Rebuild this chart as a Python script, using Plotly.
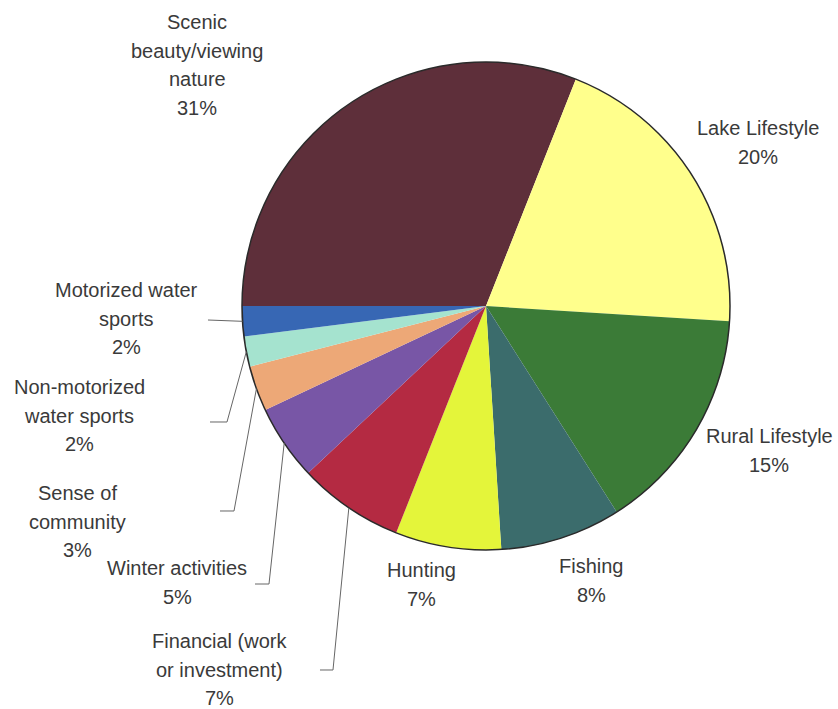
import math
import plotly.graph_objects as go

# ---- data ----
categories = ["Scenic beauty/viewing nature", "Lake Lifestyle", "Rural Lifestyle", "Fishing",
              "Hunting", "Financial (work or investment)", "Winter activities",
              "Sense of community", "Non-motorized water sports", "Motorized water sports"]
values = [31, 20, 15, 8, 7, 7, 5, 3, 2, 2]
colors = ["#5E2F3A", "#FFFF8C", "#3B7B37", "#3B6C6C", "#E4F53A",
          "#B42A42", "#7856A6", "#EDA877", "#A5E3CF", "#3767B4"]

# ---- layout (pixels) ----
W, H = 838, 709
CX, CY, R = 486, 306, 244
START = 270  # first slice starts at 9 o'clock, clockwise

label_lines = [["Scenic", "beauty/viewing", "nature"], ["Lake Lifestyle"], ["Rural Lifestyle"],
               ["Fishing"], ["Hunting"], ["Financial (work", "or investment)"],
               ["Winter activities"], ["Sense of", "community"],
               ["Non-motorized", "water sports"], ["Motorized water", "sports"]]
label_pos = [(197, 22), (758, 128), (769, 436), (591, 566), (421, 570),
             (219, 641), (177, 568), (77, 493), (79, 387), (126, 290)]
LINE_SP = 28.7
leaders = {5: [(333, 670), (320, 670)], 6: [(269, 584), (255, 584)],
           7: [(234, 511), (220, 511)], 8: [(227, 422), (210, 422)], 9: [(208, 320)]}

def px(x):
    return x / W

def py(y):
    return 1 - y / H

fig = go.Figure(go.Pie(
    labels=categories, values=values, sort=False, direction="clockwise", rotation=START,
    marker=dict(colors=colors, line=dict(width=0)), textinfo="none", hoverinfo="label+percent",
    domain=dict(x=[px(CX - R), px(CX + R)], y=[py(CY + R), py(CY - R)]),
))

annotations = []
for i, (lines, (x0, y0)) in enumerate(zip(label_lines, label_pos)):
    all_lines = lines + [f"{values[i]}%"]
    for k, t in enumerate(all_lines):
        annotations.append(dict(
            x=px(x0), y=py(y0 + k * LINE_SP), xref="paper", yref="paper",
            text=t, showarrow=False, xanchor="center", yanchor="middle",
            font=dict(family="Liberation Sans, Arial", size=20, color="#3a3a3a")))

shapes = [dict(type="circle", xref="paper", yref="paper",
               x0=px(CX - R), x1=px(CX + R), y0=py(CY + R), y1=py(CY - R),
               line=dict(color="#2a2a2a", width=1.5))]

total = sum(values)
cum = 0
for i, v in enumerate(values):
    mid = math.radians(START + (cum + v / 2) / total * 360)
    cum += v
    if i in leaders:
        sx = CX + R * math.sin(mid)
        sy = CY - R * math.cos(mid)
        pts = [(sx, sy)] + leaders[i]
        path = "M " + " L ".join(f"{px(a):.5f},{py(b):.5f}" for a, b in pts)
        shapes.append(dict(type="path", xref="paper", yref="paper", path=path,
                           line=dict(color="#666666", width=1)))

fig.update_layout(width=W, height=H, margin=dict(l=0, r=0, t=0, b=0),
                  paper_bgcolor="white", plot_bgcolor="white", showlegend=False,
                  annotations=annotations, shapes=shapes)
fig.write_html("out.html")
